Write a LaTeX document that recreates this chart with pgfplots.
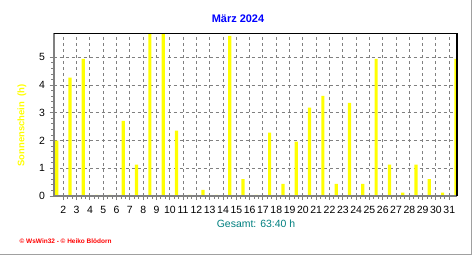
\documentclass[border=0pt]{standalone}
\usepackage{fontspec}
\setmainfont{Liberation Sans}
\usepackage{pgfplots}
\pgfplotsset{compat=1.18}
\definecolor{wsblue}{RGB}{0,0,255}
\definecolor{wsyellow}{RGB}{255,255,0}
\definecolor{wsteal}{RGB}{0,128,128}
\definecolor{wsred}{RGB}{255,0,0}
\definecolor{wsgray}{RGB}{128,128,128}
\definecolor{framegray}{RGB}{160,160,160}
\begin{document}
\begin{tikzpicture}[x=1bp,y=1bp]
\fill[white] (0,0) rectangle (472,255);
\begin{axis}[
  at={(53.5bp,59bp)}, anchor=south west,
  scale only axis, width=403.5bp, height=163bp,
  xmin=0.76, xmax=31.08, ymin=0, ymax=5.88,
  clip mode=individual,
  axis line style={draw=none},
  ybar, bar width=3.2bp,
  xtick={1.5,2.5,3.5,4.5,5.5,6.5,7.5,8.5,9.5,10.5,11.5,12.5,13.5,14.5,15.5,16.5,17.5,18.5,19.5,20.5,21.5,22.5,23.5,24.5,25.5,26.5,27.5,28.5,29.5,30.5},
  xticklabels={2,3,4,5,6,7,8,9,10,11,12,13,14,15,16,17,18,19,20,21,22,23,24,25,26,27,28,29,30,31},
  ytick={0,1,2,3,4,5},
  minor x tick num=2, minor y tick num=4,
  xtick pos=lower, ytick pos=left,
  tick align=outside,
  major tick length=4bp, minor tick length=2.5bp,
  tick style={wsgray, line width=1bp},
  grid=major,
  major grid style={wsgray, line width=1bp, dash pattern=on 3bp off 3bp},
  ticklabel style={font=\fontsize{10.5}{12}\selectfont, text=black},
  xticklabel style={yshift=-2.5bp},
  yticklabel style={xshift=-1bp},
  /pgf/number format/assume math mode=true,
]
\addplot[fill=wsyellow, draw=none, bar shift=0pt] table[x=d, y=h] {
d h
1 2.0
2 4.27
3 4.95
4 0.04
5 0.04
6 2.71
7 1.13
8 6.0
9 6.0
10 2.36
11 0.04
12 0.22
13 0.04
14 5.78
15 0.61
16 0.04
17 2.29
18 0.44
19 1.96
20 3.19
21 3.61
22 0.44
23 3.36
24 0.44
25 4.95
26 1.13
27 0.12
28 1.13
29 0.61
30 0.12
31 4.95
};
\draw[wsgray, line width=2bp] (rel axis cs:0,0) -- (rel axis cs:0,1);
\draw[wsgray, line width=2bp] (rel axis cs:0,0) -- (rel axis cs:1,0);
\draw[black, line width=1bp] (rel axis cs:0,1) -- (rel axis cs:1,1);
\draw[black, line width=1.6bp] (rel axis cs:1,0) -- (rel axis cs:1,1);
\end{axis}
\node[font=\bfseries\fontsize{11}{13}\selectfont, text=wsblue] at (238,236) {März 2024};
\node[rotate=90, font=\bfseries\fontsize{9.5}{11}\selectfont, text=wsyellow] at (22,129.5) {Sonnenschein\ \ (h)};
\node[font=\fontsize{10.5}{12}\selectfont, text=wsteal] at (256,31) {Gesamt: 63:40 h};
\node[font=\bfseries\fontsize{6.5}{8}\selectfont, text=wsred] at (65.6,14.3) {© WsWin32 - © Heiko Blödorn};
\draw[framegray, line width=1.5bp] (0,0.75) -- (471.25,0.75) -- (471.25,255);
\pgfresetboundingbox
\useasboundingbox (0,0) rectangle (472,255);
\end{tikzpicture}
\end{document}
